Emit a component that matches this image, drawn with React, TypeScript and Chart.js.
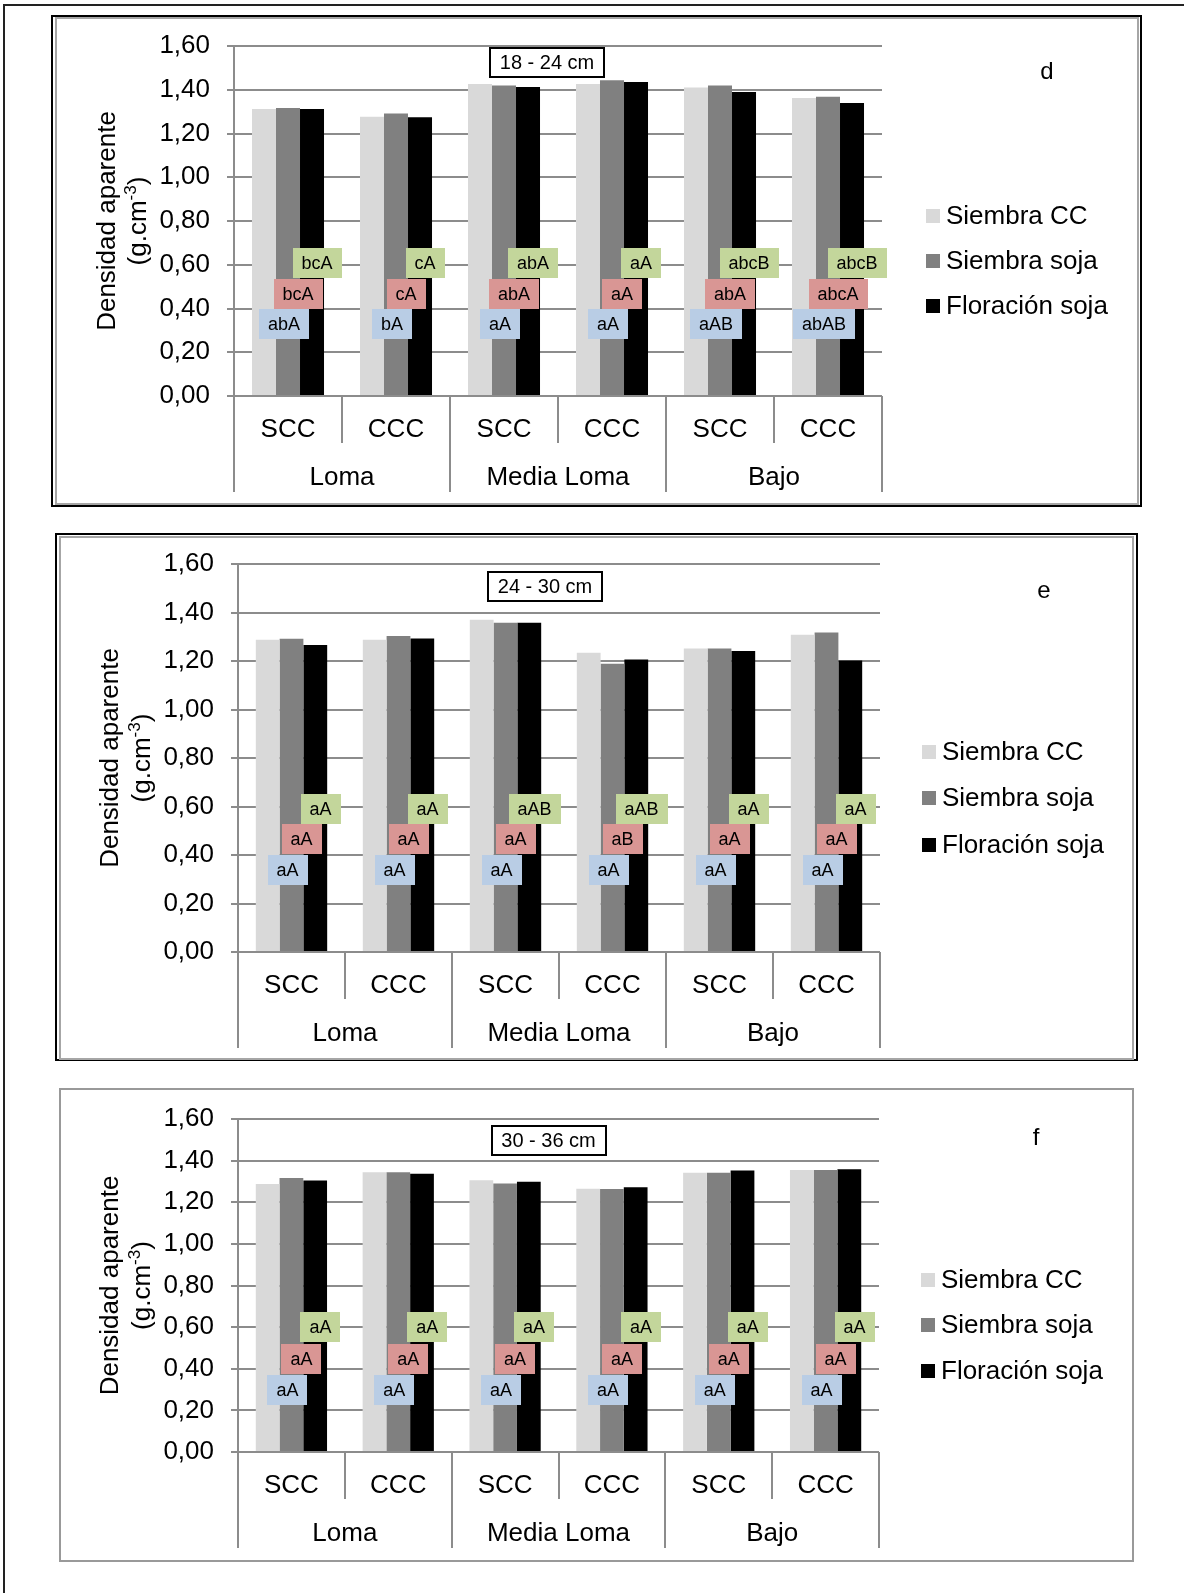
import React, { useEffect, useRef } from "react";
import { Chart, registerables } from "chart.js";

Chart.register(...registerables);

// ---------- data ----------
const categories = ["SCC", "CCC", "SCC", "CCC", "SCC", "CCC"];
const groups = ["Loma", "Media Loma", "Bajo"];
const seriesNames = ["Siembra CC", "Siembra soja", "Floración soja"];
const yMin = 0;
const yMax = 1.6;
const yStep = 0.2;

// Panel d: 18 - 24 cm
const dSiembraCC = [1.312, 1.277, 1.426, 1.426, 1.41, 1.362];
const dSiembraSoja = [1.317, 1.291, 1.419, 1.443, 1.419, 1.368];
const dFloracionSoja = [1.312, 1.274, 1.413, 1.435, 1.39, 1.339];
const dLettersCC = ["abA", "bA", "aA", "aA", "aAB", "abAB"];
const dLettersSS = ["bcA", "cA", "abA", "aA", "abA", "abcA"];
const dLettersFS = ["bcA", "cA", "abA", "aA", "abcB", "abcB"];

// Panel e: 24 - 30 cm
const eSiembraCC = [1.288, 1.288, 1.37, 1.234, 1.252, 1.308];
const eSiembraSoja = [1.292, 1.303, 1.358, 1.189, 1.252, 1.318];
const eFloracionSoja = [1.266, 1.293, 1.358, 1.206, 1.241, 1.202];
const eLettersCC = ["aA", "aA", "aA", "aA", "aA", "aA"];
const eLettersSS = ["aA", "aA", "aA", "aB", "aA", "aA"];
const eLettersFS = ["aA", "aA", "aAB", "aAB", "aA", "aA"];

// Panel f: 30 - 36 cm
const fSiembraCC = [1.288, 1.344, 1.306, 1.265, 1.342, 1.355];
const fSiembraSoja = [1.316, 1.344, 1.29, 1.264, 1.342, 1.355];
const fFloracionSoja = [1.304, 1.337, 1.298, 1.272, 1.352, 1.358];
const fLettersCC = ["aA", "aA", "aA", "aA", "aA", "aA"];
const fLettersSS = ["aA", "aA", "aA", "aA", "aA", "aA"];
const fLettersFS = ["aA", "aA", "aA", "aA", "aA", "aA"];

// ---------- styles ----------
const FONT = '"Liberation Sans", Arial, Helvetica, sans-serif';
const GRID = "#8c8c8c";
const BAR_COLORS = ["#d9d9d9", "#808080", "#000000"];
const BOX_COLORS = ["#b9cde5", "#d99694", "#c3d69b"];
const BOX_DX = [-4, 10, 29];

type PanelCfg = {
  top: number;
  height: number;
  plotTop: number;
  plotBottom: number;
  plotLeft: number;
  plotRight: number;
  title: string;
  titleCx: number;
  titleTop: number;
  letter: string;
  letterX: number;
  letterY: number;
  legendX: number;
  legendCY: number;
  legendGap: number;
  yTitleX: [number, number];
  labelLevels: number[];
  values: number[][];
  letters: string[][];
};

const panels: PanelCfg[] = [
  {
    top: 0,
    height: 520,
    plotTop: 46,
    plotBottom: 396,
    plotLeft: 234,
    plotRight: 882,
    title: "18 - 24 cm",
    titleCx: 547,
    titleTop: 47,
    letter: "d",
    letterX: 1047,
    letterY: 72,
    legendX: 926,
    legendCY: 261,
    legendGap: 45,
    yTitleX: [108, 139],
    labelLevels: [0.33, 0.468, 0.608],
    values: [dSiembraCC, dSiembraSoja, dFloracionSoja],
    letters: [dLettersCC, dLettersSS, dLettersFS],
  },
  {
    top: 520,
    height: 550,
    plotTop: 564,
    plotBottom: 952,
    plotLeft: 238,
    plotRight: 880,
    title: "24 - 30 cm",
    titleCx: 545,
    titleTop: 571,
    letter: "e",
    letterX: 1044,
    letterY: 591,
    legendX: 922,
    legendCY: 798,
    legendGap: 46.5,
    yTitleX: [111, 143],
    labelLevels: [0.339, 0.465, 0.59],
    values: [eSiembraCC, eSiembraSoja, eFloracionSoja],
    letters: [eLettersCC, eLettersSS, eLettersFS],
  },
  {
    top: 1070,
    height: 523,
    plotTop: 1119,
    plotBottom: 1452,
    plotLeft: 238,
    plotRight: 879,
    title: "30 - 36 cm",
    titleCx: 548.5,
    titleTop: 1125,
    letter: "f",
    letterX: 1036,
    letterY: 1138,
    legendX: 921,
    legendCY: 1325,
    legendGap: 45.5,
    yTitleX: [111, 143],
    labelLevels: [0.298, 0.449, 0.6],
    values: [fSiembraCC, fSiembraSoja, fFloracionSoja],
    letters: [fLettersCC, fLettersSS, fLettersFS],
  },
];

function makeDecor(cfg: PanelCfg) {
  return {
    id: "decor",
    afterDraw(chart: any) {
      const ctx: CanvasRenderingContext2D = chart.ctx;
      const xs = chart.scales.x;
      const ys = chart.scales.y;
      const ca = chart.chartArea;
      const off = cfg.top;
      const n = categories.length;
      const c0 = xs.getPixelForValue(0);
      const w = xs.getPixelForValue(1) - c0;
      ctx.save();

      // x separators
      ctx.strokeStyle = GRID;
      ctx.lineWidth = 2;
      for (let k = 0; k <= n; k++) {
        const px = Math.round(c0 - w / 2 + k * w);
        const len = k % 2 === 0 ? 96 : 47;
        ctx.beginPath();
        ctx.moveTo(px, ca.bottom);
        ctx.lineTo(px, ca.bottom + len);
        ctx.stroke();
      }

      // category + group labels
      ctx.fillStyle = "#000";
      ctx.textAlign = "center";
      ctx.textBaseline = "middle";
      ctx.font = `26px ${FONT}`;
      categories.forEach((c, i) => {
        ctx.fillText(c, xs.getPixelForValue(i), ca.bottom + 34);
      });
      groups.forEach((g, gi) => {
        const cx = (xs.getPixelForValue(gi * 2) + xs.getPixelForValue(gi * 2 + 1)) / 2;
        ctx.fillText(g, cx, ca.bottom + 82);
      });

      // significance boxes
      ctx.font = `18px ${FONT}`;
      for (let s = 0; s < 3; s++) {
        for (let i = 0; i < n; i++) {
          const t = cfg.letters[s][i];
          const tw = ctx.measureText(t).width;
          const bw = Math.round(tw + 18);
          const bh = 30;
          const cx = xs.getPixelForValue(i) + BOX_DX[s];
          const cy = ys.getPixelForValue(cfg.labelLevels[s]);
          ctx.fillStyle = BOX_COLORS[s];
          ctx.fillRect(Math.round(cx - bw / 2), Math.round(cy - bh / 2), bw, bh);
          ctx.fillStyle = "#000";
          ctx.fillText(t, cx, cy + 1);
        }
      }

      // title box
      ctx.font = `20px ${FONT}`;
      const ttw = ctx.measureText(cfg.title).width;
      const tbw = Math.round(ttw + 22);
      const tbh = 31;
      const tbx = Math.round(cfg.titleCx - tbw / 2);
      const tby = cfg.titleTop - off;
      ctx.fillStyle = "#fff";
      ctx.fillRect(tbx, tby, tbw, tbh);
      ctx.strokeStyle = "#000";
      ctx.lineWidth = 2;
      ctx.strokeRect(tbx + 1, tby + 1, tbw - 2, tbh - 2);
      ctx.fillStyle = "#000";
      ctx.fillText(cfg.title, cfg.titleCx, tby + tbh / 2 + 1);

      // panel letter
      ctx.font = `24px ${FONT}`;
      ctx.fillText(cfg.letter, cfg.letterX, cfg.letterY - off);

      // legend
      ctx.textAlign = "left";
      ctx.font = `26px ${FONT}`;
      chart.data.datasets.forEach((ds: any, k: number) => {
        const cy = cfg.legendCY - off + (k - 1) * cfg.legendGap;
        ctx.fillStyle = ds.backgroundColor;
        ctx.fillRect(cfg.legendX, Math.round(cy - 7), 14, 14);
        ctx.fillStyle = "#000";
        ctx.fillText(ds.label, cfg.legendX + 20, cy + 1);
      });

      // y-axis title
      const ycy = (ca.top + ca.bottom) / 2;
      ctx.save();
      ctx.translate(cfg.yTitleX[0], ycy);
      ctx.rotate(-Math.PI / 2);
      ctx.textAlign = "center";
      ctx.font = `26px ${FONT}`;
      ctx.fillText("Densidad aparente", 0, 0);
      ctx.restore();

      ctx.save();
      ctx.translate(cfg.yTitleX[1], ycy);
      ctx.rotate(-Math.PI / 2);
      ctx.textAlign = "left";
      const a = "(g.cm";
      const sup = "-3";
      const b = ")";
      ctx.font = `26px ${FONT}`;
      const wa = ctx.measureText(a).width;
      const wb = ctx.measureText(b).width;
      ctx.font = `17px ${FONT}`;
      const ws = ctx.measureText(sup).width;
      let sx = -(wa + ws + wb) / 2;
      ctx.font = `26px ${FONT}`;
      ctx.fillText(a, sx, 0);
      sx += wa;
      ctx.font = `17px ${FONT}`;
      ctx.fillText(sup, sx, -8);
      sx += ws;
      ctx.font = `26px ${FONT}`;
      ctx.fillText(b, sx, 0);
      ctx.restore();

      ctx.restore();
    },
  };
}

function Panel({ cfg }: { cfg: PanelCfg }) {
  const ref = useRef<HTMLCanvasElement | null>(null);
  useEffect(() => {
    const canvas = ref.current;
    if (!canvas) return;
    const chart = new Chart(canvas, {
      type: "bar",
      data: {
        labels: categories,
        datasets: seriesNames.map((name, s) => ({
          label: name,
          data: cfg.values[s],
          backgroundColor: BAR_COLORS[s],
          borderWidth: 0,
          categoryPercentage: 0.667,
          barPercentage: 1,
        })),
      },
      options: {
        responsive: false,
        animation: false,
        devicePixelRatio: 1,
        layout: {
          padding: {
            top: cfg.plotTop - cfg.top,
            right: 1184 - cfg.plotRight,
            bottom: 0,
            left: 0,
          },
        },
        plugins: {
          legend: { display: false },
          tooltip: { enabled: false },
          title: { display: false },
        },
        scales: {
          x: {
            type: "category",
            offset: true,
            grid: { display: false },
            border: { display: false },
            ticks: { display: false },
            afterFit: (s: any) => {
              s.height = cfg.height - (cfg.plotBottom - cfg.top);
            },
          },
          y: {
            min: yMin,
            max: yMax,
            ticks: {
              stepSize: yStep,
              padding: 17,
              color: "#000",
              font: { family: FONT, size: 26 },
              callback: (v: any) => Number(v).toFixed(2).replace(".", ","),
            },
            grid: { color: GRID, lineWidth: 2, tickLength: 7 },
            border: { color: GRID, width: 2 },
            afterFit: (s: any) => {
              s.width = cfg.plotLeft;
            },
          },
        },
      } as any,
      plugins: [makeDecor(cfg)],
    });
    return () => chart.destroy();
  }, [cfg]);
  return (
    <canvas
      ref={ref}
      width={1184}
      height={cfg.height}
      style={{ position: "absolute", left: 0, top: cfg.top, width: 1184, height: cfg.height }}
    />
  );
}

function Box(props: { l: number; t: number; r: number; b: number; color: string }) {
  const { l, t, r, b, color } = props;
  return (
    <div
      style={{
        position: "absolute",
        left: l,
        top: t,
        width: r - l,
        height: b - t,
        border: `2px solid ${color}`,
        boxSizing: "border-box",
      }}
    />
  );
}

export default function App() {
  return (
    <div style={{ position: "absolute", left: 0, top: 0, width: 1184, height: 1593, background: "#fff", overflow: "hidden" }}>
      <div
        style={{
          position: "absolute",
          left: 3,
          top: 4,
          width: 1181,
          height: 1589,
          borderTop: "2px solid #222",
          borderLeft: "2px solid #222",
          boxSizing: "border-box",
        }}
      />
      <Box l={51} t={15} r={1142} b={507} color="#000" />
      <Box l={55} t={17} r={1139} b={505} color="#a6a6a6" />
      <Box l={55} t={533} r={1138} b={1061} color="#000" />
      <Box l={59} t={536} r={1134} b={1060} color="#a6a6a6" />
      <Box l={59} t={1088} r={1134} b={1562} color="#999" />
      {panels.map((p, i) => (
        <Panel key={i} cfg={p} />
      ))}
    </div>
  );
}
